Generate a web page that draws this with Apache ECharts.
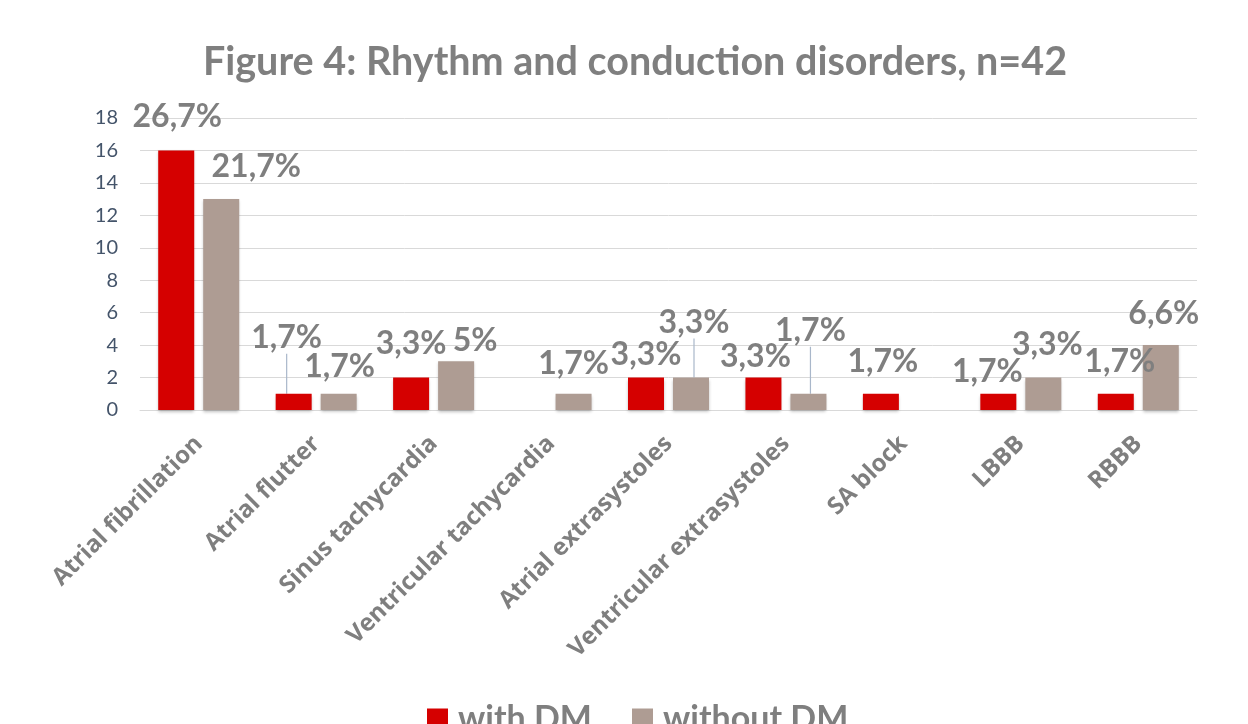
<!DOCTYPE html>
<html>
<head>
<meta charset="utf-8">
<script src="https://cdn.jsdelivr.net/npm/echarts@6/dist/echarts.min.js"></script>
<style>
  html, body { margin: 0; padding: 0; background: #fff; }
  #main { width: 1248px; height: 724px; }
</style>
</head>
<body>
<div id="main"></div>
<script>
// data
var categories = ['Atrial fibrillation', 'Atrial flutter', 'Sinus tachycardia', 'Ventricular tachycardia',
    'Atrial extrasystoles', 'Ventricular extrasystoles', 'SA block', 'LBBB', 'RBBB'];
var withDM = [16, 1, 2, 0, 2, 2, 1, 1, 1];
var withoutDM = [13, 1, 3, 1, 2, 1, 0, 2, 4];
var withDMPct = ['26,7%', '1,7%', '3,3%', '', '3,3%', '3,3%', '1,7%', '1,7%', '1,7%'];
var withoutDMPct = ['21,7%', '1,7%', '5%', '1,7%', '3,3%', '1,7%', '', '3,3%', '6,6%'];
var yTicks = [0, 2, 4, 6, 8, 10, 12, 14, 16, 18];

// where the percent labels sit relative to the top of each bar [dx, dy]
var shiftWith = [[1, -18], [-7, -40], [0, -18], [0, 0], [0, -7], [-8, -5], [2, -16], [-11, -6], [4, -16]];
var shiftWithout = [[35, -16], [1, -11], [19, -5], [0, -14], [3, -39], [2, -47], [0, 0], [4, -17], [3, -15]];
// labels joined to their bar by a thin line
var lineWith = [false, true, false, false, false, false, false, false, false];
var lineWithout = [false, false, false, false, true, true, false, false, false];

var FONT = 'Lato';
var GREY = '#7F7F7F';

function buildData(values, lines) {
    return values.map(function (v, i) {
        return { value: v, labelLine: { show: lines[i] } };
    });
}

function makeSeries(name, values, pct, lines, shift, color) {
    return {
        name: name,
        type: 'bar',
        barWidth: 36,
        barGap: '25%',
        data: buildData(values, lines),
        itemStyle: {
            color: color,
            shadowColor: 'rgba(0,0,0,0.25)',
            shadowBlur: 3,
            shadowOffsetY: 2
        },
        label: {
            show: true,
            position: 'top',
            distance: 0,
            fontFamily: FONT,
            fontWeight: 'bold',
            fontSize: 32,
            lineHeight: 32,
            color: GREY,
            formatter: function (p) { return pct[p.dataIndex]; }
        },
        labelLine: {
            show: false,
            lineStyle: { color: '#A9B7CA', width: 1.2 }
        },
        labelLayout: function (p) {
            var s = shift[p.dataIndex];
            return { dx: s[0], dy: s[1] };
        }
    };
}

var option = {
    backgroundColor: '#FFFFFF',
    animation: false,
    title: {
        text: 'Figure 4: Rhythm and conduction disorders, n=42',
        left: 630,
        textAlign: 'center',
        top: 37,
        textStyle: {
            fontFamily: FONT,
            fontWeight: 'bold',
            fontSize: 39.5,
            color: GREY
        }
    },
    legend: {
        bottom: -17,
        left: 422,
        itemWidth: 21,
        itemHeight: 21,
        itemGap: 40,
        icon: 'rect',
        textStyle: {
            fontFamily: FONT,
            fontWeight: 'bold',
            fontSize: 34,
            color: GREY,
            padding: [0, 0, 0, 5]
        },
        data: ['with DM', 'without DM']
    },
    grid: {
        left: 140,
        right: 51,
        top: 118,
        bottom: 314
    },
    xAxis: {
        type: 'category',
        data: categories,
        axisLine: { lineStyle: { color: '#D9D9D9', width: 1 } },
        axisTick: { show: false },
        axisLabel: {
            interval: 0,
            rotate: 45,
            margin: 30,
            fontFamily: 'Open Sans',
            fontWeight: 'bold',
            fontSize: 24,
            color: GREY
        }
    },
    yAxis: {
        type: 'value',
        min: yTicks[0],
        max: yTicks[yTicks.length - 1],
        interval: 2,
        axisLine: { show: false },
        axisTick: { show: false },
        splitLine: { lineStyle: { color: '#D9D9D9', width: 1 } },
        axisLabel: {
            margin: 22,
            fontFamily: FONT,
            fontSize: 20,
            color: '#44546A'
        }
    },
    series: [
        makeSeries('with DM', withDM, withDMPct, lineWith, shiftWith, '#D50000'),
        makeSeries('without DM', withoutDM, withoutDMPct, lineWithout, shiftWithout, '#AE9C93')
    ]
};

var myChart = echarts.init(document.getElementById('main'));
myChart.setOption(option);
</script>
</body>
</html>
